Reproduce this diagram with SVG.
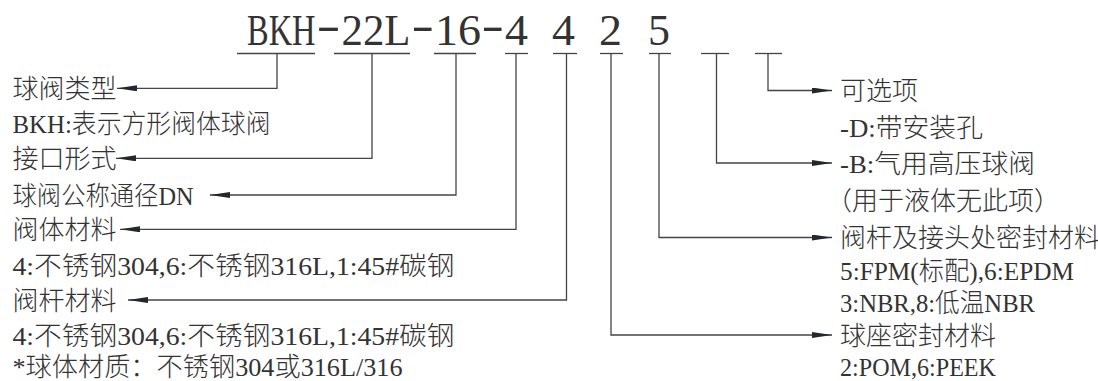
<svg xmlns="http://www.w3.org/2000/svg" width="1098" height="381" viewBox="0 0 1098 381">
  <style>
    .t { font-family: "Liberation Serif", "Noto Sans CJK SC", serif; font-size: 26px; font-weight: 300; fill: #333; }
    .title { font-family: "Liberation Serif", "Noto Sans CJK SC", serif; font-size: 32.7px; fill: #333; }
    .seg { stroke: #444; stroke-width: 1.3; fill: none; }
    .conn { stroke: #444; stroke-width: 1.3; fill: none; marker-end: url(#arrow); }
  </style>
  <defs>
    <marker id="arrow" markerUnits="userSpaceOnUse" viewBox="0 0 20 6" refX="20" refY="3" markerWidth="20" markerHeight="6" orient="auto">
      <path d="M0,0 L20,3 L0,6 Z" fill="#23272e"/>
    </marker>
  </defs>
  <rect width="1098" height="381" fill="#fff"/>

  <g id="code">
    <text class="title" transform="scale(1 1.376)" y="32.7"><tspan x="247" textLength="68.5" lengthAdjust="spacingAndGlyphs">BKH</tspan><tspan x="316.5" dy="-3.6" textLength="24" lengthAdjust="spacingAndGlyphs">-</tspan><tspan x="341.5" dy="3.6" textLength="69" lengthAdjust="spacingAndGlyphs">22L</tspan><tspan x="411.5" dy="-3.6" textLength="22.5" lengthAdjust="spacingAndGlyphs">-</tspan><tspan x="435" dy="3.6" textLength="46" lengthAdjust="spacingAndGlyphs">16</tspan><tspan x="481.5" dy="-3.6" textLength="22.5" lengthAdjust="spacingAndGlyphs">-</tspan><tspan x="505" dy="3.6" textLength="23" lengthAdjust="spacingAndGlyphs">4</tspan> <tspan x="552" textLength="23" lengthAdjust="spacingAndGlyphs">4</tspan> <tspan x="599" textLength="23" lengthAdjust="spacingAndGlyphs">2</tspan> <tspan x="648" textLength="22" lengthAdjust="spacingAndGlyphs">5</tspan></text>
    <g id="code-segments">
      <line class="seg" x1="237" y1="53.5" x2="315" y2="53.5"/>
      <line class="seg" x1="334" y1="53.5" x2="410" y2="53.5"/>
      <line class="seg" x1="434" y1="53.5" x2="476" y2="53.5"/>
      <line class="seg" x1="505" y1="53.5" x2="528" y2="53.5"/>
      <line class="seg" x1="553" y1="53.5" x2="577" y2="53.5"/>
      <line class="seg" x1="600" y1="53.5" x2="623" y2="53.5"/>
      <line class="seg" x1="649" y1="53.5" x2="671" y2="53.5"/>
      <line class="seg" x1="701" y1="53.5" x2="729" y2="53.5"/>
      <line class="seg" x1="755" y1="53.5" x2="782" y2="53.5"/>
    </g>
  </g>

  <g id="connectors">
    <polyline class="conn" points="277,53.5 277,88.3 117,88.3"/>
    <polyline class="conn" points="372,53.5 372,158.3 116,158.3"/>
    <polyline class="conn" points="456,53.5 456,195 210,195"/>
    <polyline class="conn" points="516,53.5 516,229.3 120,229.3"/>
    <polyline class="conn" points="566.5,53.5 566.5,300 128,300"/>
    <polyline class="conn" points="611,53.5 611,335 832,335"/>
    <polyline class="conn" points="659,53.5 659,237.5 832,237.5"/>
    <polyline class="conn" points="716.5,53.5 716.5,163 832,163"/>
    <polyline class="conn" points="768,53.5 768,90.5 832,90.5"/>
  </g>

  <g id="valve-type">
    <text class="t" x="12.5" y="97.8">球阀类型</text>
    <text class="t" x="12.5" y="132.8" textLength="258" lengthAdjust="spacingAndGlyphs">BKH:表示方形阀体球阀</text>
  </g>
  <g id="port-form">
    <text class="t" x="12.5" y="167.8">接口形式</text>
  </g>
  <g id="nominal-dn">
    <text class="t" x="12.5" y="204.5" textLength="181" lengthAdjust="spacingAndGlyphs">球阀公称通径DN</text>
  </g>
  <g id="body-material">
    <text class="t" x="12.5" y="238.8">阀体材料</text>
    <text class="t" x="12.5" y="274.5" textLength="442" lengthAdjust="spacingAndGlyphs">4:不锈钢304,6:不锈钢316L,1:45#碳钢</text>
  </g>
  <g id="stem-material">
    <text class="t" x="12.5" y="309.5">阀杆材料</text>
    <text class="t" x="12.5" y="344.5" textLength="442" lengthAdjust="spacingAndGlyphs">4:不锈钢304,6:不锈钢316L,1:45#碳钢</text>
    <text class="t" x="12.5" y="375.5" textLength="390" lengthAdjust="spacingAndGlyphs">*球体材质：不锈钢304或316L/316</text>
  </g>

  <g id="optional">
    <text class="t" x="840" y="100">可选项</text>
    <text class="t" x="840" y="136.5" textLength="143" lengthAdjust="spacingAndGlyphs">-D:带安装孔</text>
  </g>
  <g id="high-pressure">
    <text class="t" x="840" y="172.5" textLength="195" lengthAdjust="spacingAndGlyphs">-B:气用高压球阀</text>
    <text class="t" x="826" y="209.5">（用于液体无此项）</text>
  </g>
  <g id="stem-seal">
    <text class="t" x="840" y="247" textLength="260" lengthAdjust="spacingAndGlyphs">阀杆及接头处密封材料</text>
    <text class="t" x="840" y="279.5" textLength="234" lengthAdjust="spacingAndGlyphs">5:FPM(标配),6:EPDM</text>
    <text class="t" x="840" y="312" textLength="195" lengthAdjust="spacingAndGlyphs">3:NBR,8:低温NBR</text>
  </g>
  <g id="seat-seal">
    <text class="t" x="840" y="344.5">球座密封材料</text>
    <text class="t" x="840" y="375.5" textLength="156" lengthAdjust="spacingAndGlyphs">2:POM,6:PEEK</text>
  </g>
</svg>
